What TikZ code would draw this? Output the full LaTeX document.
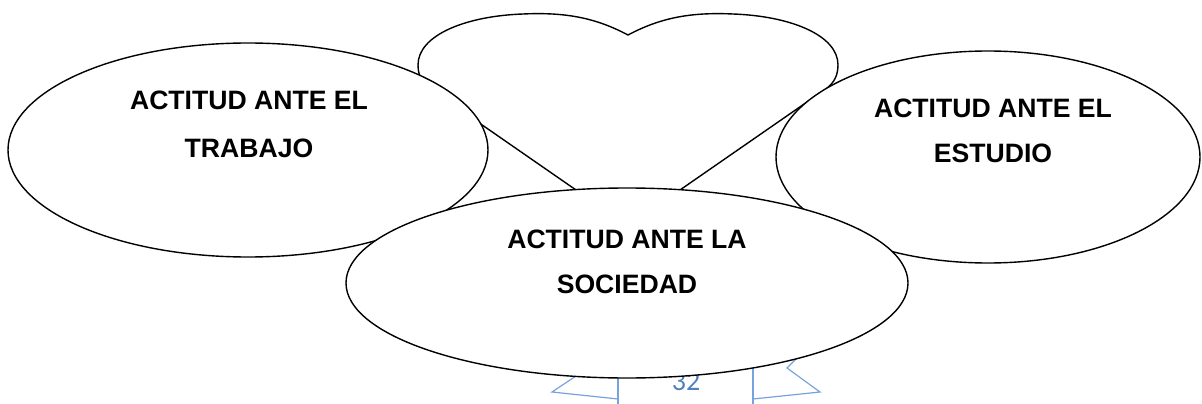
\documentclass[tikz,border=0pt]{standalone}
\usepackage{fontspec}
\setmainfont{Liberation Sans}
\newfontfamily\pagenumfont{Carlito}
\usetikzlibrary{shapes.geometric}
\definecolor{pgblue}{RGB}{79,129,189}
\definecolor{pglight}{RGB}{120,162,222}
\tikzset{
  outline/.style={draw=black, line width=1.4pt},
  bubble/.style={ellipse, outline, fill=white, inner sep=0pt},
  lbl/.style={anchor=base, inner sep=0pt, font=\fontsize{26.6}{30}\selectfont\bfseries},
  pgline/.style={draw=pglight, line width=1.2pt}
}
\begin{document}
\begin{tikzpicture}[x=1pt,y=-1pt]
\useasboundingbox (0,0) rectangle (1202,404);
% heart (partly hidden behind the ellipses)
\draw[outline, line join=round]
  (628,35) .. controls (660,18) and (690,12) .. (733,14)
  .. controls (790,16) and (838,35) .. (838,65)
  .. controls (838,78) and (832,86) .. (820,93)
  -- (628,226)
  -- (436,93)
  .. controls (424,86) and (418,78) .. (418,65)
  .. controls (418,35) and (466,16) .. (523,14)
  .. controls (566,12) and (596,18) .. (628,35) -- cycle;
% page footer
\coordinate (la) at (585,370);
\coordinate (lb) at (552,392);
\coordinate (lc) at (618,399);
\coordinate (ld) at (618,370);
\coordinate (le) at (618,410);
\draw[pgline] (la) -- (lb) -- (lc);
\draw[pgline] (ld) -- (le);
\coordinate (ra) at (800,355);
\coordinate (rb) at (787,368);
\coordinate (rc) at (820,392);
\coordinate (rd) at (753,399);
\coordinate (re) at (753,360);
\coordinate (rf) at (753,410);
\draw[pgline] (ra) -- (rb) -- (rc) -- (rd);
\draw[pgline] (re) -- (rf);
\node[anchor=base, inner sep=0pt, text=pgblue, font=\pagenumfont\fontsize{28}{32}\selectfont] (pnum) at (686,390) {32};
% ellipses
\node[bubble, minimum width=480pt, minimum height=214pt] (trab) at (248,150) {};
\node[bubble, minimum width=424pt, minimum height=212pt] (estu) at (988,157) {};
\node[bubble, minimum width=562pt, minimum height=190pt] (soci) at (627,283) {};
% texts
\node[lbl] (t1a) at (249,109) {ACTITUD ANTE EL};
\node[lbl] (t1b) at (249,157) {TRABAJO};
\node[lbl] (t2a) at (993,117) {ACTITUD ANTE EL};
\node[lbl] (t2b) at (993,162) {ESTUDIO};
\node[lbl] (t3a) at (627,248) {ACTITUD ANTE LA};
\node[lbl] (t3b) at (627,293) {SOCIEDAD};
\end{tikzpicture}
\end{document}
